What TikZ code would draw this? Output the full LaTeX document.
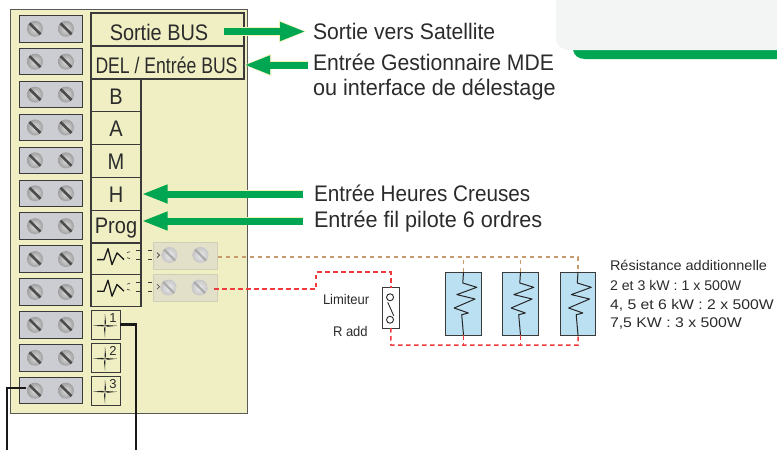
\documentclass[tikz,border=0pt]{standalone}
\usepackage{fontspec}
\setmainfont{Liberation Sans}
\usetikzlibrary{arrows.meta,calc}
\definecolor{panelc}{HTML}{F0EFC4}
\definecolor{greenc}{HTML}{00A651}
\definecolor{halo}{HTML}{F2F0B8}
\definecolor{linec}{HTML}{3A3A3A}
\definecolor{termc}{HTML}{CCCDD2}
\definecolor{bluec}{HTML}{BBE0F2}
\definecolor{brownc}{HTML}{C69C6D}
\definecolor{redc}{HTML}{EE3B3B}
\definecolor{ghostc}{HTML}{E2E0C8}
\definecolor{ghostl}{HTML}{CFCFB8}
\definecolor{textc}{HTML}{2B2B2B}
\definecolor{topc}{HTML}{F3F5F5}
\tikzset{
  x=1pt,y=-1pt,
  every node/.style={text=textc,inner sep=0pt,outer sep=0pt},
  panel/.style={draw=gray!70!black,fill=panelc,line width=0.9pt},
  term/.style={draw=linec,fill=termc,line width=1pt,minimum width=63pt,minimum height=26.5pt},
  ghost/.style={draw=ghostl,fill=ghostc,line width=0.8pt,minimum width=64pt,minimum height=27pt},
  cellbox/.style={draw=linec,line width=1.1pt},
  fanbox/.style={draw=linec,line width=0.7pt,minimum width=29pt,minimum height=29.5pt},
  celltxt/.style={font=\fontsize{22.5}{24}\selectfont},
  lbl/.style={anchor=west,font=\fontsize{22.5}{24}\selectfont},
  small/.style={anchor=west,font=\fontsize{14}{15}\selectfont},
  garrow/.style={draw=greenc,line width=7pt,-{Triangle[length=26pt,width=17pt,fill=greenc]}},
  harrow/.style={draw=halo,line width=8.5pt,-{Triangle[length=28pt,width=20pt,fill=halo]}},
  blackwire/.style={draw=black!90,line width=2.8pt},
  browndash/.style={draw=brownc,line width=1.5pt,dash pattern=on 4.5pt off 3.5pt},
  reddash/.style={draw=redc,line width=1.5pt,dash pattern=on 4.5pt off 3.5pt},
  zig/.style={draw=black!85,line width=1pt,line join=round},
  tiny/.style={draw=linec,line width=0.6pt},
  resbox/.style={draw=linec,fill=bluec,line width=1pt,minimum width=35.5pt,minimum height=63pt},
  screw/.pic={
    \shade[inner color=gray!25,outer color=gray!75] (0,0) circle[radius=8];
    \draw[line width=2.6pt,draw=black!70] (-5.5,-5.5) -- (5.5,5.5);
  },
  pale/.pic={
    \shade[inner color=gray!15,outer color=gray!45] (0,0) circle[radius=8];
    \draw[line width=2.2pt,draw=gray!65] (-5.5,-5.5) -- (5.5,5.5);
  },
  fan/.pic={
    \fill[black!85] (0,0) -- (1,-3) -- (0,-12) -- (-0.4,-2) -- cycle;
    \fill[black!85] (0,0) -- (3,1) -- (12,0) -- (2,-0.6) -- cycle;
    \fill[black!85] (0,0) -- (-1,3) -- (0,12) -- (0.4,2) -- cycle;
    \fill[black!85] (0,0) -- (-3,-1) -- (-12,0) -- (-2,0.6) -- cycle;
  },
  wave/.pic={
    \draw[black!90,line width=1.3pt,line join=round] (-15,0) -- (-8,0) -- (-4,-11) -- (0,5) -- (5,-6.7) -- (12,0);
    \draw[tiny] (15,-7) -- (18,-8) (15,-2) -- (18,-1);
    \draw[tiny] (24,-9) -- (28,-9) (24,0) -- (28,0) (36,-9) -- (40,-9) (36,0) -- (40,0);
    \draw[tiny] (45,-7) -- (47.5,-4.5) -- (45,-2);
  },
}
\begin{document}
\begin{tikzpicture}
\useasboundingbox (0,0) rectangle (777,450);
% top-right panel
\fill[greenc] (573,40) -- (777,40) -- (777,59) -- (585,59) .. controls (578,59) and (574,55) .. (573,50) -- cycle;
\fill[topc] (556,0) -- (777,0) -- (777,50) -- (570,50) .. controls (561,50) and (556,45) .. (556,36) -- cycle;
% panel
\node[panel,minimum width=237pt,minimum height=403.5pt,anchor=north west] (boitier) at (10,9.5) {};
% terminals
\foreach \i in {0,...,11}{
  \node[term,anchor=north west] (t\i) at (19,15.5+32.9*\i) {};
  \path (t\i.center) ++(-15.5,0) pic {screw} ++(31,0) pic {screw};
}
% bus cells
\node[cellbox,minimum width=153pt,minimum height=33pt,anchor=north west] (sortie) at (91,13) {};
\node[cellbox,minimum width=153pt,minimum height=33pt,anchor=north west] (del) at (91,46) {};
\node[celltxt,xscale=.885] (sortietxt) at (159,32.5) {Sortie BUS};
\node[celltxt,xscale=.783] (deltxt) at (166.5,65) {DEL / Entrée BUS};
% column cells
\foreach \n/\t/\y in {cb/B/79,ca/A/111.8,cm/M/144.6,ch/H/177.4,cp/Prog/210.2}{
  \node[cellbox,minimum width=50pt,minimum height=32.8pt,anchor=north west] (\n) at (91,\y) {};
  \node[celltxt,xscale=.89] at ($(\n.center)+(0,1)$) {\t};
}
\node[cellbox,minimum width=50pt,minimum height=31.6pt,anchor=north west] (r1) at (91,243) {};
\node[cellbox,minimum width=50pt,minimum height=31.6pt,anchor=north west] (r2) at (91,274.6) {};
% ghost terminals
\node[ghost,anchor=north west] (g1) at (153.5,242) {};
\node[ghost,anchor=north west] (g2) at (153.5,274.5) {};
\path (g1.center) ++(-16,-0.5) pic {pale} ++(31,0) pic {pale};
\path (g2.center) ++(-17,-0.5) pic {pale} ++(31,0) pic {pale};
\path (r1.center) ++(-4,0.8) pic {wave};
\path (r2.center) ++(-4,0.8) pic {wave};
% fan boxes
\foreach \n/\t/\y in {f1/1/310,f2/2/343,f3/3/376}{
  \node[fanbox,anchor=north west] (\n) at (91,\y) {};
  \path (\n.center) ++(-0.5,1) pic {fan};
  \node[font=\fontsize{13}{14}\selectfont] at ($(\n.center)+(7.5,-6.5)$) {\t};
}
% black wires
\coordinate (bw1) at (136,450);
\coordinate (bw2) at (7,450);
\coordinate (s11) at (26,388);
\draw[blackwire] (f1.east) -| (bw1);
\draw[blackwire] (s11) -| (bw2);
% labels
\node[lbl,xscale=.94] (lsat) at (313,31) {Sortie vers Satellite};
\node[lbl,xscale=.94] (lmde) at (313,62) {Entrée Gestionnaire MDE};
\node[lbl,xscale=.96] at (313,90) {ou interface de délestage};
\node[lbl,xscale=.92] (lhc) at (314,193) {Entrée Heures Creuses};
\node[lbl,xscale=.96] (lfp) at (314,222) {Entrée fil pilote 6 ordres};
\node[small,xscale=1.035] at (610,265) {Résistance additionnelle};
\node[small,xscale=1.01] at (610,285) {2 et 3 kW : 1 x 500W};
\node[small,xscale=1.125] at (610,305) {4, 5 et 6 kW : 2 x 500W};
\node[small,xscale=1.13] at (610,324) {7,5 KW : 3 x 500W};
\node[small,xscale=.93] (llim) at (323,299) {Limiteur};
\node[small,xscale=.93] at (333,331) {R add};
% green arrows
\coordinate (a1s) at (224,31.5); \coordinate (a1e) at (306,31.5);
\coordinate (a2s) at (308,65); \coordinate (a2e) at (244,65);
\coordinate (a3s) at (303,194); \coordinate (a3e) at (141.5,194);
\coordinate (a4s) at (303,221); \coordinate (a4e) at (141.5,221);
\foreach \p/\q in {a1s/a1e,a2s/a2e,a3s/a3e,a4s/a4e}{
  \draw[harrow,shorten >=-1pt] (\p) -- (\q);
  \draw[garrow] (\p) -- (\q);
}
% resistors
\foreach \n/\x in {ra/463.5,rb/520.5,rc/578}{
  \node[resbox] (\n) at (\x,303.5) {};
  \draw[zig] (\n.north) -- ++(-0.7,11) -- ++(14,4.3) -- ++(-20,7.3) -- ++(18.3,4.4) -- ++(-21,9) -- ++(14.3,5) -- ++(-6.7,1.7) -- (\n.south);
}
% limiter
\node[draw=linec,fill=white,line width=1pt,minimum width=16.5pt,minimum height=40.5pt,anchor=north west] (lim) at (382.5,287.5) {};
\draw[line width=0.9pt,black!85] ($(lim.center)+(-0.7,-10.5)$) circle[radius=3.5] ($(lim.center)+(-0.7,12)$) circle[radius=3.5];
\draw[line width=0.9pt,black!85] ($(lim.center)+(-3,-5.5)$) -- ($(lim.center)+(3,8)$);
% dashed wiring
\coordinate (bt) at (578,257);
\coordinate (rbot) at (391,345);
\coordinate (rtop) at (316,272);
\coordinate (rmid) at (316,289);
\draw[browndash] (g1.east |- 0,257) -- (bt) -- (rc.north);
\draw[browndash] (ra.north) -- (ra.north |- bt);
\draw[browndash] (rb.north) -- (rb.north |- bt);
\draw[reddash] (214,289) -- (rmid) -- (rtop) -- (rtop -| lim.north) -- (lim.north);
\draw[reddash] (lim.south) -- (rbot) -- (rbot -| rc.south) -- (rc.south);
\draw[reddash] (ra.south) -- (ra.south |- rbot);
\draw[reddash] (rb.south) -- (rb.south |- rbot);
\end{tikzpicture}
\end{document}
